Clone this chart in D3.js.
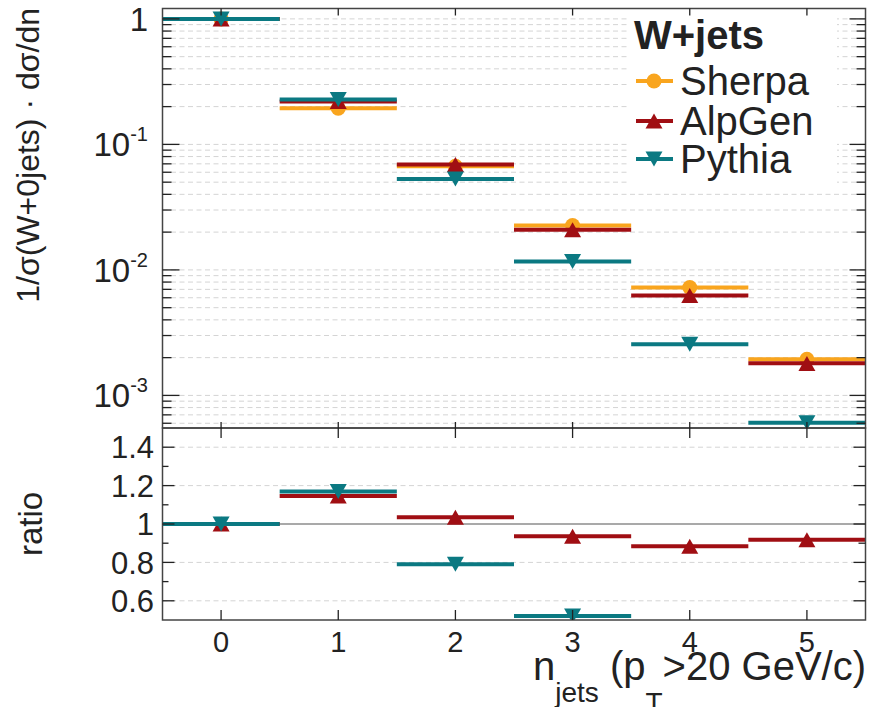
<!DOCTYPE html>
<html><head><meta charset="utf-8">
<script src="https://cdn.jsdelivr.net/npm/d3@7"></script>
<style>
body{margin:0;background:#fff}
svg{display:block}
text{font-family:"Liberation Sans",Arial,Helvetica,sans-serif;fill:#222}
</style>
</head><body>
<svg id="c" width="872" height="707"></svg>
<script>
// ---- data ----
const categories = [0, 1, 2, 3, 4, 5];
const sherpa = [1, 0.194, 0.067, 0.0226, 0.00724, 0.00194];
const alpgen = [1, 0.220, 0.0690, 0.0209, 0.00626, 0.00180];
const pythia = [1, 0.228, 0.0530, 0.01166, 0.00256, 0.000607];
const ratioAlpgen = [1, 1.146, 1.035, 0.936, 0.884, 0.918];
const ratioPythia = [1, 1.169, 0.790, 0.521, null, null];
const seriesNames = ["Sherpa", "AlpGen", "Pythia"];
const legendTitle = "W+jets";
const xTickLabels = ["0", "1", "2", "3", "4", "5"];
const yTopMajor = [1, 0.1, 0.01, 0.001];
const yTopMajorBase = ["1", "10", "10", "10"];
const yTopMajorExp = ["", "-1", "-2", "-3"];
const yBotMajor = [1.4, 1.2, 1, 0.8, 0.6];
const yBotMajorLabels = ["1.4", "1.2", "1", "0.8", "0.6"];

const colors = {Sherpa: "#f9a51e", AlpGen: "#a00e13", Pythia: "#0b7982"};
const shapes = {Sherpa: "circle", AlpGen: "up", Pythia: "down"};

const svg = d3.select("#c");
const L = 162.5, R = 865.5, T = 8.5, M = 428, B = 620;

const x = d3.scaleLinear().domain([-0.5, 5.5]).range([L, R]);
const yTop = d3.scaleLog().domain([5.5e-4, 1.21]).range([M, T]);
const yBot = d3.scaleLinear().domain([0.5, 1.5]).range([B, M]);

const gridColor = "#d4d4d4";
const axisColor = "#444";

// clip paths
const defs = svg.append("defs");
defs.append("clipPath").attr("id", "clipTop").append("rect")
  .attr("x", L).attr("y", T).attr("width", R - L).attr("height", M - T);
defs.append("clipPath").attr("id", "clipBot").append("rect")
  .attr("x", L).attr("y", M).attr("width", R - L).attr("height", B - M);

// ---- grids ----
const topTicks = yTop.ticks().filter(v => v >= 5.5e-4 && v <= 1.21);
const isMajor = v => Math.abs(Math.log10(v) - Math.round(Math.log10(v))) < 1e-6;
svg.append("g").selectAll("line").data(topTicks).join("line")
  .attr("x1", L).attr("x2", R)
  .attr("y1", d => yTop(d)).attr("y2", d => yTop(d))
  .attr("stroke", gridColor).attr("stroke-width", 1).attr("stroke-dasharray", "5,3.5");

const botMinor = d3.range(6, 15).map(d => d / 10);
svg.append("g").selectAll("line").data(yBotMajor.filter(v => v !== 1)).join("line")
  .attr("x1", L).attr("x2", R)
  .attr("y1", d => yBot(d)).attr("y2", d => yBot(d))
  .attr("stroke", gridColor).attr("stroke-width", 1).attr("stroke-dasharray", "5,3.5");
// unity line
svg.append("line").attr("x1", L).attr("x2", R).attr("y1", yBot(1)).attr("y2", yBot(1))
  .attr("stroke", "#555").attr("stroke-width", 1.2);

// ---- legend background ----
svg.append("rect").attr("x", 629).attr("y", 12).attr("width", 208).attr("height", 175).attr("fill", "#fff");

// ---- markers ----
function marker(g, cx, cy, color, shape, s = 1) {
  if (shape === "circle") {
    g.append("circle").attr("cx", cx).attr("cy", cy).attr("r", 7.5 * s).attr("fill", color);
  } else {
    const w = 8.5 * s, h = 7.5 * s;
    const p = shape === "up"
      ? [[cx - w, cy + h], [cx + w, cy + h], [cx, cy - h]]
      : [[cx - w, cy - h], [cx + w, cy - h], [cx, cy + h]];
    g.append("path").attr("d", d3.line()(p) + "Z").attr("fill", color);
  }
}

function drawSeries(g, yS, vals, name) {
  const color = colors[name];
  const sg = g.append("g");
  categories.forEach((c, i) => {
    const v = vals[i];
    if (v == null) return;
    sg.append("line")
      .attr("x1", x(c - 0.5)).attr("x2", x(c + 0.5))
      .attr("y1", yS(v)).attr("y2", yS(v))
      .attr("stroke", color).attr("stroke-width", 4);
  });
  categories.forEach((c, i) => {
    const v = vals[i];
    if (v == null) return;
    marker(sg, x(c), yS(v), color, shapes[name]);
  });
}

const gTop = svg.append("g").attr("clip-path", "url(#clipTop)");
drawSeries(gTop, yTop, sherpa, "Sherpa");
drawSeries(gTop, yTop, alpgen, "AlpGen");
drawSeries(gTop, yTop, pythia, "Pythia");

const gBot = svg.append("g").attr("clip-path", "url(#clipBot)");
drawSeries(gBot, yBot, ratioAlpgen, "AlpGen");
drawSeries(gBot, yBot, ratioPythia, "Pythia");

// ---- frames ----
svg.append("rect").attr("x", L).attr("y", T).attr("width", R - L).attr("height", M - T)
  .attr("fill", "none").attr("stroke", axisColor).attr("stroke-width", 1.5);
svg.append("rect").attr("x", L).attr("y", M).attr("width", R - L).attr("height", B - M)
  .attr("fill", "none").attr("stroke", axisColor).attr("stroke-width", 1.5);

// ---- ticks ----
const tk = svg.append("g").attr("stroke", "#222").attr("stroke-width", 1.3);
// upper y ticks (left & right)
topTicks.forEach(v => {
  const y = yTop(v), maj = isMajor(v);
  tk.append("line").attr("x1", L).attr("x2", L + (maj ? 17 : 9)).attr("y1", y).attr("y2", y);
  tk.append("line").attr("x1", R).attr("x2", R - (maj ? 16 : 9)).attr("y1", y).attr("y2", y);
});
// lower y ticks
botMinor.forEach(v => {
  const y = yBot(v), maj = yBotMajor.some(m => Math.abs(m - v) < 1e-6);
  tk.append("line").attr("x1", L).attr("x2", L + (maj ? 12 : 6)).attr("y1", y).attr("y2", y);
  tk.append("line").attr("x1", R).attr("x2", R - (maj ? 12 : 7)).attr("y1", y).attr("y2", y);
});
// x ticks
categories.forEach(c => {
  const xx = x(c);
  tk.append("line").attr("x1", xx).attr("x2", xx).attr("y1", T).attr("y2", T + 7);
  tk.append("line").attr("x1", xx).attr("x2", xx).attr("y1", M).attr("y2", M - 6);
  tk.append("line").attr("x1", xx).attr("x2", xx).attr("y1", M).attr("y2", M + 10);
  tk.append("line").attr("x1", xx).attr("x2", xx).attr("y1", B).attr("y2", B - 10);
});

// ---- tick labels ----
yTopMajor.forEach((v, i) => {
  const t = svg.append("text").attr("x", 148).attr("y", yTop(v)).attr("dy", "0.36em")
    .attr("text-anchor", "end").attr("font-size", 33);
  t.append("tspan").text(yTopMajorBase[i]);
  if (yTopMajorExp[i]) {
    t.append("tspan").attr("font-size", 20).attr("dy", "-0.75em").text(yTopMajorExp[i]);
  }
});
yBotMajor.forEach((v, i) => {
  svg.append("text").attr("x", 154).attr("y", yBot(v)).attr("dy", "0.36em")
    .attr("text-anchor", "end").attr("font-size", 31).text(yBotMajorLabels[i]);
});
categories.forEach((c, i) => {
  svg.append("text").attr("x", x(c)).attr("y", 652).attr("text-anchor", "middle")
    .attr("font-size", 29).text(xTickLabels[i]);
});

// ---- axis titles ----
svg.append("text").attr("transform", "translate(39,8) rotate(-90)")
  .attr("text-anchor", "end").attr("font-size", 32).text("1/σ(W+0jets) · dσ/dn");
svg.append("text").attr("transform", "translate(42," + yBot(1) + ") rotate(-90)")
  .attr("text-anchor", "middle").attr("font-size", 33).text("ratio");

const xl = svg.append("text").attr("x", 866).attr("y", 680).attr("text-anchor", "end").attr("font-size", 40);
xl.append("tspan").text("n");
xl.append("tspan").attr("font-size", 28).attr("dy", 22).text("jets");
xl.append("tspan").attr("dy", -22).text(" (p");
xl.append("tspan").attr("font-size", 28).attr("dy", 32).text("T");
xl.append("tspan").attr("dy", -32).text(">20 GeV/c)");

// ---- legend ----
svg.append("text").attr("x", 634).attr("y", 49).attr("font-size", 40).attr("font-weight", "bold").text(legendTitle);
const rowY = [81, 121, 159];
seriesNames.forEach((n, i) => {
  const y = rowY[i];
  svg.append("line").attr("x1", 636).attr("x2", 673).attr("y1", y).attr("y2", y)
    .attr("stroke", colors[n]).attr("stroke-width", 4);
  marker(svg, 654, y, colors[n], shapes[n]);
  svg.append("text").attr("x", 680).attr("y", y).attr("dy", "0.36em").attr("font-size", 40).text(n);
});
</script>
</body></html>
